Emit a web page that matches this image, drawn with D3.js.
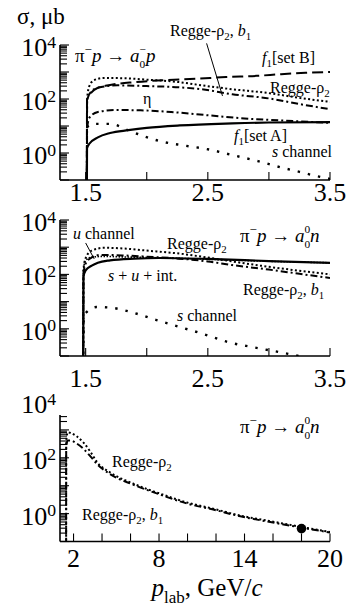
<!DOCTYPE html>
<html><head><meta charset="utf-8">
<script src="https://cdn.jsdelivr.net/npm/d3@7"></script>
<style>
html,body{margin:0;padding:0;background:#fff}
svg text{font-family:"Liberation Serif","Times New Roman",serif;fill:#000}
</style></head><body>
<svg id="chart" width="351" height="610"></svg>
<script>
// Cross sections σ (μb) versus p_lab (GeV/c), pairs [p_lab, σ]

// Panel A: π−p → a0− p
const pA_f1B     = [[1.51,0.05],[1.511,90],[1.55,180],[1.6,260],[1.7,330],[1.9,420],[2.15,500],[2.4,560],[2.65,650],[2.9,720],[3.1,830],[3.3,930],[3.5,1000]];
const pA_regge   = [[1.51,0.05],[1.512,100],[1.53,300],[1.57,500],[1.65,600],[1.8,590],[2.0,520],[2.27,420],[2.45,320],[2.7,230],[3.0,165],[3.25,110],[3.5,78]];
const pA_reggeB1 = [[1.51,0.05],[1.512,90],[1.55,200],[1.6,260],[1.76,320],[2.0,300],[2.27,270],[2.45,230],[2.7,150],[3.0,105],[3.25,65],[3.5,42]];
const pA_eta     = [[1.51,0.05],[1.512,8],[1.53,20],[1.6,33],[1.75,39],[1.95,38],[2.2,33],[2.5,25],[2.8,19],[3.1,16],[3.5,13]];
const pA_f1A     = [[1.51,0.05],[1.511,1.5],[1.53,2.2],[1.6,3.8],[1.7,5.5],[1.85,7],[2.0,8.5],[2.27,10.5],[2.7,12.5],[3.0,13.5],[3.5,14]];
const pA_sChan   = [[1.51,9],[1.55,12],[1.7,12],[1.88,6],[2.1,2.8],[2.3,1.9],[2.49,1.4],[2.72,0.8],[2.91,0.5],[3.09,0.3],[3.25,0.2],[3.42,0.13],[3.5,0.11]];

// Panel B: π−p → a0 0 n, near threshold
const pB_regge   = [[1.48,0.05],[1.482,150],[1.5,400],[1.55,750],[1.65,950],[1.8,900],[2.0,750],[2.27,580],[2.45,450],[2.7,300],[2.93,210],[3.2,145],[3.5,100]];
const pB_reggeB1 = [[1.48,0.05],[1.482,100],[1.5,250],[1.55,420],[1.62,520],[1.8,500],[2.0,450],[2.27,380],[2.5,300],[2.7,220],[3.0,150],[3.25,105],[3.5,74]];
const pB_sum     = [[1.48,0.05],[1.482,80],[1.5,140],[1.55,210],[1.6,270],[1.7,330],[1.9,380],[2.1,400],[2.5,370],[3.0,310],[3.5,265]];
const pB_uChan   = [[1.48,0.05],[1.482,150],[1.5,330],[1.55,430],[1.65,460],[1.8,440],[2.0,420],[2.3,385],[2.7,335],[3.1,295],[3.5,268]];
const pB_sChan   = [[1.48,0.05],[1.485,3],[1.51,4.2],[1.59,6.3],[1.7,6],[1.89,3.9],[2.08,2.1],[2.26,1.2],[2.46,0.65],[2.66,0.33],[2.87,0.21],[3.12,0.13],[3.2,0.11],[3.3,0.09]];

// Panel C: π−p → a0 0 n, up to 20 GeV/c
const pC_regge   = [[1.48,0.05],[1.485,400],[1.6,820],[1.8,780],[2.2,600],[2.7,350],[3.2,160],[3.65,70],[4.56,30],[6.17,12],[8.07,5.2],[9.96,2.5],[11.8,1.5],[13.7,0.85],[15.6,0.56],[17.9,0.34],[20,0.22]];
const pC_reggeB1 = [[1.48,0.05],[1.485,250],[1.6,420],[1.8,420],[2.2,330],[2.7,210],[3.2,110],[3.65,60],[4.56,26],[6.17,11],[8.07,4.8],[9.96,2.3],[11.8,1.4],[13.7,0.8],[15.6,0.52],[17.9,0.32],[20,0.21]];
const pC_data    = [[18,0.29]];

// Axis ticks
const xTicksAB  = [1.5,2.0,2.5,3.0,3.5];
const xLabelsAB = [1.5,2.5,3.5];
const xTicksC   = [2,4,6,8,10,12,14,16,18,20];
const xLabelsC  = [2,8,14,20];
const yLabelExp = [0,2,4];

const svg = d3.select('#chart');
const FONT = 26;

// Text with italic / subscript / superscript runs; each run may set its own shift
function rich(sel, x, y, parts, size, anchor, supRaise) {
  const t = sel.append('text').attr('x', x).attr('y', y)
    .attr('font-size', size).attr('text-anchor', anchor || 'start');
  let shift = 0;
  parts.forEach(p => {
    let target = 0;
    if (p.sub) target = size * (p.lower || 0.28);
    if (p.sup) target = -size * (p.raise || supRaise || 0.42);
    const ts = t.append('tspan').text(p.t).attr('dy', target - shift);
    if (p.sub || p.sup) ts.attr('font-size', size * (p.scale || 0.68));
    if (p.it) ts.attr('font-style', 'italic');
    if (p.dx) ts.attr('dx', p.dx);
    shift = target;
  });
  return t;
}

const dash = {solid: null, dashed: '11,5', dashdot: '7,3,2,3', dotted: '2,2.4', sparse: '2.4,8', dense: '1.5,1.5'};

function panel(cfg) {
  const g = svg.append('g');
  const x = d3.scaleLinear().domain(cfg.xDomain).range([60, 330]);
  const y = d3.scaleLog().domain([0.1, 1e4]).range([cfg.bottom, cfg.top]);
  const yTop = cfg.axisTop != null ? cfg.axisTop : cfg.top;
  const id = 'clip' + cfg.name;
  svg.append('clipPath').attr('id', id).append('rect')
    .attr('x', 60).attr('y', yTop).attr('width', 270).attr('height', cfg.bottom - yTop);

  // y axis: line + log ticks pointing inward
  g.append('line').attr('x1', 60).attr('x2', 60).attr('y1', yTop).attr('y2', cfg.bottom)
    .attr('stroke', '#000').attr('stroke-width', 1.6);
  const yt = [];
  for (let n = -1; n <= 4; n++) for (let k = 1; k <= 9; k++) {
    const v = k * Math.pow(10, n);
    if (v >= 0.1 && y(v) >= yTop - 0.5 && v <= 1e4) yt.push({v, major: k === 1});
  }
  g.selectAll('.yt').data(yt).enter().append('line')
    .attr('x1', 60).attr('x2', d => 60 + (d.major ? 9 : 7))
    .attr('y1', d => y(d.v)).attr('y2', d => y(d.v))
    .attr('stroke', '#000').attr('stroke-width', 1.1);
  yLabelExp.forEach(e => {
    rich(g, 56, y(Math.pow(10, e)) + 11, [{t: '10'}, {t: String(e), sup: true}], FONT, 'end', 0.32);
  });

  // x axis
  g.append('line').attr('x1', 60).attr('x2', 330).attr('y1', cfg.bottom).attr('y2', cfg.bottom)
    .attr('stroke', '#000').attr('stroke-width', 1.6);
  g.selectAll('.xt').data(cfg.xTicks).enter().append('line')
    .attr('x1', d => x(d)).attr('x2', d => x(d))
    .attr('y1', cfg.bottom).attr('y2', cfg.bottom - 8)
    .attr('stroke', '#000').attr('stroke-width', 1.1);
  g.selectAll('.xl').data(cfg.xLabels).enter().append('text')
    .attr('x', d => x(d)).attr('y', cfg.labelY)
    .attr('text-anchor', 'middle').attr('font-size', FONT)
    .text(d => cfg.fmt(d));

  const line = d3.line().x(d => x(d[0])).y(d => y(Math.max(d[1], 0.02))).curve(d3.curveMonotoneX);
  const plot = g.append('g').attr('clip-path', `url(#${id})`);
  cfg.series.forEach(s => {
    plot.append('path').datum(s.data).attr('d', line)
      .attr('fill', 'none').attr('stroke', '#000')
      .attr('stroke-width', s.w || 2)
      .attr('stroke-dasharray', dash[s.style]);
  });
  return {g, x, y, plot};
}

// σ axis title
rich(svg, 17, 24, [{t: 'σ, μb'}], 23);

const arrowA = [{t: 'π'}, {t: '−', sup: true}, {t: 'p', it: true}, {t: ' → '}, {t: 'a', it: true},
  {t: '0', sub: true, lower: 0.3, scale: 0.6}, {t: '−', sup: true, raise: 0.45, scale: 0.6, dx: -5.5}, {t: 'p', it: true}];
const arrowN = [{t: 'π'}, {t: '−', sup: true}, {t: 'p', it: true}, {t: ' → '}, {t: 'a', it: true},
  {t: '0', sub: true, lower: 0.3, scale: 0.6}, {t: '0', sup: true, raise: 0.5, scale: 0.6, dx: -5.7}, {t: 'n', it: true}];

// ---------- Panel A ----------
const A = panel({
  name: 'A', xDomain: [1.29, 3.5], top: 45, bottom: 180, labelY: 201,
  xTicks: xTicksAB, xLabels: xLabelsAB, fmt: d3.format('.1f'),
  series: [
    {data: pA_sChan, style: 'sparse', w: 2.4},
    {data: pA_f1A, style: 'solid', w: 2.2},
    {data: pA_eta, style: 'dashdot'},
    {data: pA_reggeB1, style: 'dashdot'},
    {data: pA_regge, style: 'dotted'},
    {data: pA_f1B, style: 'dashed'}
  ]
});
rich(A.g, 75, 62, arrowA, 19);
rich(A.g, 170, 36, [{t: 'Regge-ρ'}, {t: '2', sub: true}, {t: ', '}, {t: 'b', it: true}, {t: '1', sub: true}], 16);
A.g.append('line')
  .attr('x1', A.x(2.49)).attr('y1', A.y(11500)).attr('x2', A.x(2.62)).attr('y2', A.y(130))
  .attr('stroke', '#000').attr('stroke-width', 1);
rich(A.g, 262, 63, [{t: 'f', it: true}, {t: '1', sub: true}, {t: '[set B]'}], 16);
rich(A.g, 270, 93, [{t: 'Regge-ρ'}, {t: '2', sub: true}], 16);
rich(A.g, 143, 104, [{t: 'η'}], 16);
rich(A.g, 234, 141, [{t: 'f', it: true}, {t: '1', sub: true}, {t: '[set A]'}], 16);
rich(A.g, 272, 157, [{t: 's', it: true}, {t: ' channel'}], 16);

// ---------- Panel B ----------
const B = panel({
  name: 'B', xDomain: [1.29, 3.5], top: 220, bottom: 356, labelY: 387,
  xTicks: xTicksAB, xLabels: xLabelsAB, fmt: d3.format('.1f'),
  series: [
    {data: pB_sChan, style: 'sparse', w: 2.4},
    {data: pB_uChan, style: 'dense', w: 1.6},
    {data: pB_sum, style: 'solid', w: 2.2},
    {data: pB_reggeB1, style: 'dashdot'},
    {data: pB_regge, style: 'dotted'}
  ]
});
rich(B.g, 73, 239, [{t: 'u', it: true}, {t: ' channel'}], 16);
B.g.append('line')
  .attr('x1', B.x(1.50)).attr('y1', B.y(1430)).attr('x2', B.x(1.57)).attr('y2', B.y(370))
  .attr('stroke', '#000').attr('stroke-width', 1);
rich(B.g, 167, 249, [{t: 'Regge-ρ'}, {t: '2', sub: true}], 16);
rich(B.g, 240, 242, arrowN, 19);
rich(B.g, 108, 281, [{t: 's', it: true}, {t: ' + '}, {t: 'u', it: true}, {t: ' + int.'}], 16);
rich(B.g, 243, 295, [{t: 'Regge-ρ'}, {t: '2', sub: true}, {t: ', '}, {t: 'b', it: true}, {t: '1', sub: true}], 16);
rich(B.g, 177, 321, [{t: 's', it: true}, {t: ' channel'}], 16);

// ---------- Panel C ----------
const C = panel({
  name: 'C', xDomain: [1.05, 20], top: 402, bottom: 541.5, axisTop: 415, labelY: 567,
  xTicks: xTicksC, xLabels: xLabelsC, fmt: d3.format('d'),
  series: [
    {data: pC_reggeB1, style: 'dashdot'},
    {data: pC_regge, style: 'dotted'}
  ]
});
C.g.selectAll('.pt').data(pC_data).enter().append('circle')
  .attr('cx', d => C.x(d[0])).attr('cy', d => C.y(d[1])).attr('r', 4.8).attr('fill', '#000');
rich(C.g, 240, 433, arrowN, 19);
rich(C.g, 112, 467, [{t: 'Regge-ρ'}, {t: '2', sub: true}], 16);
rich(C.g, 82, 520, [{t: 'Regge-ρ'}, {t: '2', sub: true}, {t: ', '}, {t: 'b', it: true}, {t: '1', sub: true}], 16);

// p_lab axis title
rich(svg, 207, 596, [{t: 'p', it: true}, {t: 'lab', sub: true}, {t: ', GeV/'}, {t: 'c', it: true}], 25, 'middle');
</script>
</body></html>
